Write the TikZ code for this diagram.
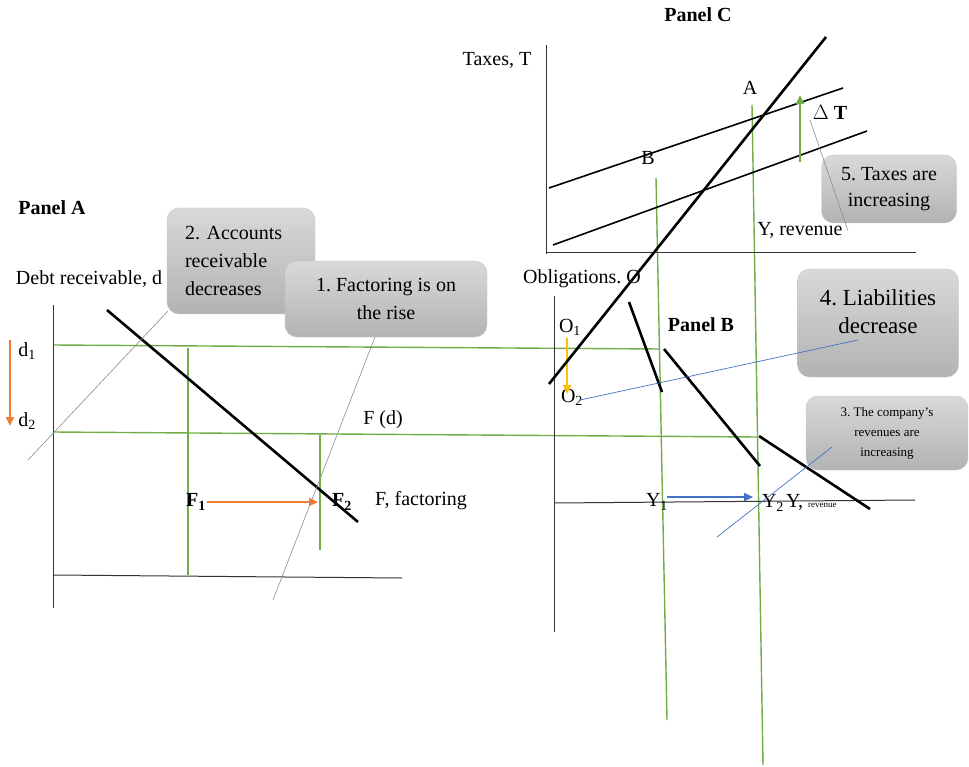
\documentclass[tikz,border=0pt]{standalone}
\usepackage{fontspec}
\setmainfont{Liberation Serif}
\usepackage{tikz}
\usetikzlibrary{arrows.meta,shapes}
\frenchspacing

\definecolor{grline}{RGB}{112,173,71}
\definecolor{orline}{RGB}{237,125,49}
\definecolor{goline}{RGB}{255,192,0}
\definecolor{blline}{RGB}{68,114,196}

\begin{document}
\begin{tikzpicture}[x=1pt,y=-1pt,font=\fontsize{20}{28}\selectfont,
  lbl/.style={inner sep=0pt},
  panel/.style={inner sep=0pt,font=\fontsize{20}{24}\selectfont\bfseries},
  curve/.style={line width=2.6pt},
  axis/.style={line width=1pt,black!80},
  guide/.style={line width=1.4pt,grline},
  callout/.style={rounded corners=12pt,top color=black!15,bottom color=black!30,draw=black!22,align=center,inner sep=0pt},
  leader/.style={line width=.6pt,black!45},
  bleader/.style={line width=.7pt,blline},
  movearrow/.style={line width=2.4pt,-{Triangle[length=9pt,width=8pt]}}]
\useasboundingbox (0,0) rectangle (969,767);

% Guide lines (green)
\coordinate (d1L) at (53,345);  \coordinate (d1R) at (660,349);
\coordinate (d2L) at (53,432);  \coordinate (d2R) at (757,437);
\coordinate (vFat) at (188,348); \coordinate (vFab) at (188,575);
\coordinate (vFbt) at (320,435); \coordinate (vFbb) at (320,550);
\coordinate (vBt) at (656,178);  \coordinate (vBb) at (667,720);
\coordinate (vAt) at (752,105);  \coordinate (vAb) at (763,765);
\draw[guide] (d1L) -- (d1R);
\draw[guide] (d2L) -- (d2R);
\draw[guide] (vFat) -- (vFab);
\draw[guide] (vFbt) -- (vFbb);
\draw[guide] (vBt) -- (vBb);
\draw[guide] (vAt) -- (vAb);

% Panel A
\node[panel] (pA) at (52,208) {Panel A};
\node[lbl] (dlab) at (89,279) {Debt receivable, d};
\coordinate (aTop) at (53,305);  \coordinate (aBot) at (53,608);
\coordinate (aL) at (53,575);    \coordinate (aR) at (402,578);
\draw[axis] (aTop) -- (aBot);
\draw[axis] (aL) -- (aR);
\coordinate (fdT) at (107,310);  \coordinate (fdB) at (358,522);
\draw[curve] (fdT) -- (fdB);
\node[lbl] (d1) at (27,351) {d\textsubscript{1}};
\node[lbl] (d2) at (27,421) {d\textsubscript{2}};
\coordinate (dArT) at (10,340);  \coordinate (dArB) at (10,426);
\draw[movearrow,orline] (dArT) -- (dArB);
\node[lbl] (fd) at (383,420) {F (d)};
\node[lbl,font=\fontsize{20}{24}\selectfont\bfseries] (F1) at (196,502) {F\textsubscript{1}};
\node[lbl,font=\fontsize{20}{24}\selectfont\bfseries] (F2) at (342,502) {F\textsubscript{2}};
\node[lbl] (fax) at (421,501) {F, factoring};
\coordinate (fArL) at (207,502); \coordinate (fArR) at (318,502);
\draw[movearrow,orline] (fArL) -- (fArR);

% Panel B
\node[lbl] (olab) at (582,279) {Obligations. O};
\node[panel] (pB) at (701,325) {Panel B};
\coordinate (bTop) at (554,296); \coordinate (bBot) at (554,632);
\coordinate (bL) at (554,503);   \coordinate (bR) at (915,500);
\draw[axis] (bTop) -- (bBot);
\draw[axis] (bL) -- (bR);
\coordinate (o1a) at (629,302);  \coordinate (o1b) at (662,392);
\coordinate (o2a) at (664,349);  \coordinate (o2b) at (760,466);
\coordinate (o3a) at (759,436);  \coordinate (o3b) at (870,509);
\draw[curve] (o1a) -- (o1b);
\draw[curve] (o2a) -- (o2b);
\draw[curve] (o3a) -- (o3b);
\node[lbl] (O1) at (570,327) {O\textsubscript{1}};
\node[lbl] (O2) at (572,397) {O\textsubscript{2}};
\coordinate (oArT) at (567,338); \coordinate (oArB) at (567,394);
\draw[movearrow,goline] (oArT) -- (oArB);
\node[lbl] (Y1) at (657,502) {Y\textsubscript{1}};
\node[lbl] (Y2) at (773,503) {Y\textsubscript{2}};
\node[lbl,anchor=west] (yax) at (786,502) {Y, {\fontsize{9}{10}\selectfont revenue}};
\coordinate (yArL) at (667,497); \coordinate (yArR) at (753,497);
\draw[movearrow,blline] (yArL) -- (yArR);

% Panel C
\node[panel] (pC) at (698,15) {Panel C};
\node[lbl] (tlab) at (497,60) {Taxes, T};
\coordinate (cTop) at (546,45);  \coordinate (cBot) at (546,254);
\coordinate (cL) at (546,253);   \coordinate (cR) at (916,253);
\draw[axis] (cTop) -- (cBot);
\draw[axis] (cL) -- (cR);
\coordinate (stL) at (549,384);  \coordinate (stR) at (826,37);
\draw[curve] (stL) -- (stR);
\coordinate (t1L) at (549,188);  \coordinate (t1R) at (843,88);
\coordinate (t2L) at (553,245);  \coordinate (t2R) at (867,131);
\draw[line width=1.6pt] (t1L) -- (t1R);
\draw[line width=1.6pt] (t2L) -- (t2R);
\node[lbl] (A) at (750,88) {A};
\node[lbl] (B) at (648,158) {B};
\coordinate (tArB) at (800,162); \coordinate (tArT) at (800,95);
\draw[movearrow,grline] (tArB) -- (tArT);
\node[lbl,font=\fontsize{20}{24}\selectfont\bfseries] (dT) at (830,112) {$\Delta$ T};
\node[lbl] (ycax) at (800,230) {Y, revenue};

% Callouts
\node[callout,minimum width=148pt,minimum height=106pt,text width=112pt,align=left] (c2) at (241,261) {2. Accounts\\receivable\\decreases};
\node[callout,minimum width=202pt,minimum height=76pt] (c1) at (386,299) {1. Factoring is on\\the rise};
\node[callout,minimum width=161pt,minimum height=108pt,font=\fontsize{23}{28}\selectfont] (c4) at (878,323) {4. Liabilities\\decrease\\[-6pt]\mbox{}};
\node[callout,minimum width=162pt,minimum height=74pt,font=\fontsize{13}{20}\selectfont] (c3) at (887,433) {3. The company's\\revenues are\\increasing};
\node[callout,minimum width=135pt,minimum height=68pt,font=\fontsize{20}{26}\selectfont] (c5) at (889,189) {5. Taxes are\\increasing};

% Leader lines
\coordinate (l2a) at (168,311);  \coordinate (l2b) at (28,460);
\coordinate (l1a) at (375,337);  \coordinate (l1b) at (273,600);
\coordinate (l4a) at (858,340);  \coordinate (l4b) at (580,400);
\coordinate (l3a) at (832,447);  \coordinate (l3b) at (717,537);
\coordinate (l5a) at (810,120);  \coordinate (l5b) at (848,231);
\draw[leader] (l2a) -- (l2b);
\draw[leader] (l1a) -- (l1b);
\draw[bleader] (l4a) -- (l4b);
\draw[bleader] (l3a) -- (l3b);
\draw[leader] (l5a) -- (l5b);
\end{tikzpicture}
\end{document}
